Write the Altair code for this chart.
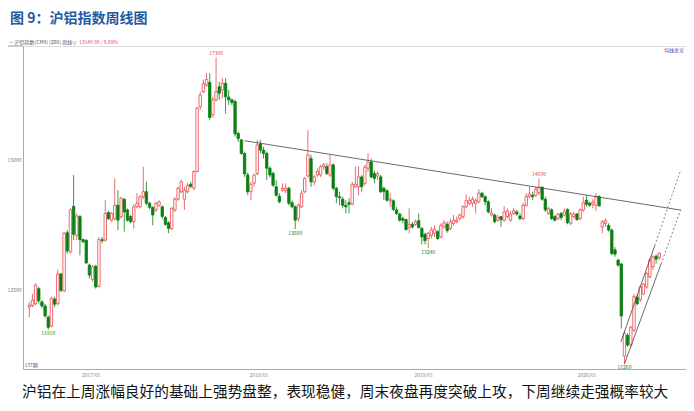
import altair as alt
import pandas as pd

# ---------------- data (weekly candles) ----------------
start_week = "2016-08-19"
opens = [12190,12220,12250,12510,12280,12210,12020,11870,12330,12250,
12770,12470,13530,13170,14040,13480,13840,13400,13390,12930,
12670,12910,12550,13400,13390,13920,13770,13800,14060,13840,
14180,13970,13840,13740,14030,14030,14230,14330,14100,14020,
13970,14060,14030,13820,13720,13610,13970,14180,14330,14180,
14330,14480,14400,14740,16140,16490,16640,16700,15960,16300,
16600,16530,16680,16360,16300,16260,15550,15410,15120,14670,
14330,14500,14700,15320,15190,15120,14810,14700,14430,14240,
14360,14350,14400,14110,14030,13800,14030,14330,14650,15010,
14530,14670,14670,14840,14840,14670,14880,14400,14230,14180,
14060,14110,14080,14430,14430,14630,14500,14810,14940,14700,
14650,14630,14400,14350,14150,14150,13970,13890,13800,13780,
13630,13690,13690,13760,13610,13500,13420,13480,13520,13550,
13450,13640,13690,13610,13710,13740,13800,13840,14030,14100,
14100,14100,14130,14300,14230,14130,13870,13870,13770,13840,
13770,13840,13770,13900,13930,13850,13800,14060,14230,14260,
14260,14310,14420,14180,13900,13970,13840,13800,13900,13870,
13980,13710,13840,13890,13800,13970,14160,14100,14080,14060,
14230,13640,13710,13670,13580,13210,13020,12950,11380,11720,
11560,11800,12360,12320,12420,12540,12720,12900,13090,13070]
highs = [12280,12420,12610,12540,12310,12250,12050,12370,12370,12850,
12790,13550,13580,14000,14670,13900,13870,13420,13400,12960,
12930,12930,13450,13450,14160,13950,13930,14600,14360,14230,
14200,14000,13870,14080,14300,14260,14840,14530,14130,14040,
14130,14160,14060,13850,13750,14030,14220,14430,14570,14430,
14510,14530,14770,16140,16490,16770,16920,16920,16370,17300,
16720,16800,16800,16530,16330,16300,15590,15420,15160,14720,
14530,14700,15410,15410,15260,15160,14850,14740,14570,14300,
14500,14500,14430,14160,14060,14100,14360,14630,15620,15090,
14670,14810,14880,14920,14910,15090,14910,14430,14330,14230,
14160,14200,14530,14840,14850,14670,14880,15120,15010,14760,
14740,14670,14430,14380,14300,14180,14030,13910,13840,13800,
14000,13740,13780,13900,13640,13530,13550,13640,13670,13580,
13710,13770,13740,13800,13870,13840,13900,14060,14280,14230,
14230,14200,14380,14330,14260,14160,14000,13900,13870,13850,
14040,14000,13950,14000,13970,13900,14100,14300,14430,14330,
14430,14600,14440,14230,14030,14000,13870,13910,13930,14000,
14000,13930,13930,13910,14000,14230,14260,14130,14180,14300,
14260,13770,13800,13710,13610,13260,13050,12970,11800,11750,
11880,12420,12400,12570,12610,12810,13050,13110,13130,13160]
lows = [12020,12190,12220,12250,12170,12010,11810,11850,12190,12220,
12450,12450,13140,13140,13390,13390,13110,13330,12950,12690,
12630,12510,12530,13330,13360,13770,13740,13770,13580,13800,
13550,13740,13710,13610,14000,14000,14180,14060,13980,13670,
13930,14030,13800,13660,13520,13580,13930,14150,14300,13970,
14300,14400,14360,14720,16070,16450,16600,15840,15900,16260,
16300,16330,15990,16180,16180,15480,15370,15090,14630,14260,
14160,14430,14670,15120,15010,14570,14620,14430,14230,14100,
14330,14300,14060,14000,13600,13740,14000,14300,14620,14430,
14460,14630,14630,14770,14670,14630,14360,14100,14060,14000,
13900,13900,14060,14400,14260,14330,14460,14740,14600,14500,
14570,14300,14160,14130,14030,13950,13870,13740,13710,13570,
13520,13610,13660,13610,13310,13310,13240,13420,13450,13390,
13420,13610,13530,13580,13660,13710,13770,13800,14000,14060,
14030,13900,14100,14200,14060,13900,13840,13710,13740,13640,
13740,13800,13740,13870,13850,13770,13770,14030,14200,14160,
14230,14260,14150,13930,13870,13770,13740,13770,13770,13840,
13690,13670,13800,13760,13770,13930,14030,14030,14000,13950,
14030,13520,13640,13550,13110,13080,12900,11830,11260,11530,
11530,11770,12220,12280,12400,12510,12690,12840,12960,13020]
closes = [12220,12310,12570,12300,12210,12040,11850,12340,12240,12770,
12480,13520,13190,13970,13500,13850,13400,13360,12970,12750,
12900,12540,13400,13380,13900,13800,13900,14060,13770,14200,
13930,13770,13740,14030,14100,14230,14330,14100,14020,13870,
14100,14130,13840,13690,13610,14000,14180,14400,14530,14360,
14460,14440,14740,16110,16410,16680,16770,15900,16300,16490,
16450,16680,16370,16300,16240,15540,15440,15120,14690,14330,
14480,14670,15300,15190,15120,14810,14670,14460,14260,14130,
14400,14400,14100,14030,13770,14060,14300,14600,15090,14530,
14630,14740,14840,14880,14700,14880,14400,14230,14210,14060,
14030,14080,14480,14480,14630,14430,14830,14940,14630,14600,
14700,14330,14330,14160,14180,13980,13900,13770,13770,13590,
13690,13640,13740,13630,13450,13380,13520,13580,13600,13420,
13670,13720,13570,13740,13770,13770,13870,14030,14150,14160,
14180,14150,14300,14230,14130,13930,13910,13740,13820,13780,
13930,13950,13890,13950,13890,13800,14060,14240,14280,14230,
14380,14420,14180,13970,14000,13800,13770,13890,13820,13930,
13720,13890,13890,13780,13970,14110,14080,14060,14120,14230,
14050,13740,13760,13580,13140,13130,12930,12040,11750,11560,
11850,12370,12250,12540,12590,12780,13020,13080,13040,13149]

# high / low annotations
ann_hi_idx = [59, 161]
ann_hi_txt = ["17300", "14600"]
ann_lo_idx = [6, 84, 126, 188]
ann_lo_txt = ["11810", "13600", "13240", "11260"]

# trend lines
trend_group = ["down", "down", "up1", "up1", "up1d", "up1d", "up2", "up2", "up2d", "up2d"]
trend_dates = ["2017-12-08", "2020-07-30", "2020-03-19", "2020-06-02", "2020-06-02", "2020-07-28",
               "2020-03-27", "2020-06-16", "2020-06-16", "2020-07-29"]
trend_prices = [15391, 13965, 11610, 13289, 13289, 14736, 11260, 12952, 12952, 13965]

axis_dates = [(2017, 1, 2), (2018, 1, 8), (2019, 1, 7), (2020, 1, 3)]
y_ticks = [12500, 15000]

title_text = "图 9：沪铝指数周线图"
header_left = "— 沪铝指数(CM9) (208)    周线∨"
header_right = "13149    90 / 0.69%"
corner_right = "均线金叉"
corner_left = "137期"
caption = "沪铝在上周涨幅良好的基础上强势盘整，表现稳健，周末夜盘再度突破上攻，下周继续走强概率较大"

# ---------------- build ----------------
RED = "#E8464A"
GREEN = "#0B7F12"
BLUE = "#3A3FA8"
FONT = "Noto Sans CJK SC"

dates = pd.date_range(start_week, periods=len(opens), freq="7D")
df = pd.DataFrame({"date": dates, "open": opens, "high": highs, "low": lows, "close": closes})
df["dir"] = ["up" if c >= o else "down" for o, c in zip(df["open"], df["close"])]

hi_df = pd.DataFrame({"date": dates[ann_hi_idx], "price": [highs[i] for i in ann_hi_idx], "label": ann_hi_txt})
lo_df = pd.DataFrame({"date": dates[ann_lo_idx], "price": [lows[i] for i in ann_lo_idx], "label": ann_lo_txt})
tr_df = pd.DataFrame({"date": pd.to_datetime(trend_dates), "price": trend_prices, "grp": trend_group})
tr_df["dashed"] = tr_df["grp"].str.endswith("d")

xscale = alt.Scale(domain=[alt.DateTime(year=2016, month=8, date=16, hours=4),
                           alt.DateTime(year=2020, month=7, date=30)], nice=False)
yscale = alt.Scale(type="log", domain=[11178, 17576], nice=False, zero=False)

xaxis = alt.Axis(values=[alt.DateTime(year=y, month=m, date=d) for y, m, d in axis_dates],
                 format="%Y/%m", labelFontSize=5, labelColor="#888888", domainColor="#aaaaaa",
                 ticks=False, grid=False, title=None, labelPadding=3, labelFont=FONT)
yaxis = alt.Axis(values=y_ticks, format="d", labelFontSize=5, labelColor="#777777",
                 domainColor="#aaaaaa", ticks=False, grid=False, title=None, labelPadding=2, labelFont=FONT)

dir_color = alt.Scale(domain=["up", "down"], range=[RED, GREEN])
dir_fill = alt.Scale(domain=["up", "down"], range=["#ffffff", GREEN])

base = alt.Chart(df).encode(x=alt.X("date:T", scale=xscale, axis=xaxis))

wick = base.mark_rule(strokeWidth=0.8).encode(
    y=alt.Y("low:Q", scale=yscale, axis=yaxis),
    y2="high:Q",
    color=alt.Color("dir:N", scale=dir_color, legend=None),
)
body = base.mark_bar(size=2.4, strokeWidth=0.8).encode(
    y="open:Q",
    y2="close:Q",
    fill=alt.Fill("dir:N", scale=dir_fill, legend=None),
    stroke=alt.Stroke("dir:N", scale=dir_color, legend=None),
)

trend_solid = alt.Chart(tr_df[~tr_df["dashed"]]).mark_line(color="#444444", strokeWidth=0.8, clip=True).encode(
    x=alt.X("date:T", scale=xscale), y=alt.Y("price:Q", scale=yscale), detail="grp:N")
trend_dash = alt.Chart(tr_df[tr_df["dashed"]]).mark_line(color="#666666", strokeWidth=0.8, strokeDash=[2, 2], clip=True).encode(
    x=alt.X("date:T", scale=xscale), y=alt.Y("price:Q", scale=yscale), detail="grp:N")

hi_txt = alt.Chart(hi_df).mark_text(fontSize=5, color=RED, baseline="bottom", dy=-1, font=FONT).encode(
    x="date:T", y=alt.Y("price:Q", scale=yscale), text="label:N")
lo_txt = alt.Chart(lo_df).mark_text(fontSize=5, color=GREEN, baseline="top", dy=1.5, font=FONT).encode(
    x="date:T", y=alt.Y("price:Q", scale=yscale), text="label:N")

one = pd.DataFrame({"t": [title_text], "h1": [header_left], "h2": [header_right], "c": [caption],
                    "cr": [corner_right], "cl": [corner_left]})
title = alt.Chart(one).mark_text(align="left", baseline="middle", fontSize=14, fontWeight="bold",
                                 color="#1F5A9E", font=FONT).encode(
    x=alt.value(-13), y=alt.value(-27), text="t:N")
head1 = alt.Chart(one).mark_text(align="left", baseline="middle", fontSize=5, color="#555555", font=FONT).encode(
    x=alt.value(-14), y=alt.value(-4), text="h1:N")
head2 = alt.Chart(one).mark_text(align="left", baseline="middle", fontSize=5, color=RED, font=FONT).encode(
    x=alt.value(56), y=alt.value(-4), text="h2:N")
cr = alt.Chart(one).mark_text(align="right", baseline="middle", fontSize=5, color=BLUE, font=FONT).encode(
    x=alt.value(661), y=alt.value(4), text="cr:N")
cl = alt.Chart(one).mark_text(align="left", baseline="middle", fontSize=5, color=BLUE, font=FONT).encode(
    x=alt.value(1.5), y=alt.value(319), text="cl:N")
cap = alt.Chart(one).mark_text(align="left", baseline="middle", fontSize=14.7, color="#111111", font=FONT).encode(
    x=alt.value(-1), y=alt.value(347), text="c:N")
topline = alt.Chart(one).mark_rule(color="#999999", strokeWidth=1).encode(
    x=alt.value(-15), x2=alt.value(0), y=alt.value(0))

chart = alt.layer(wick, body, trend_solid, trend_dash, hi_txt, lo_txt, title, head1, head2, cr, cl, cap, topline).properties(
    width=663, height=323,
    padding={"left": 15, "top": 38, "right": 0, "bottom": 35},
    autosize="none",
).configure_view(stroke="#999999", strokeWidth=1).configure(background="white")

chart.save("out.html", embed_options={"renderer": "svg", "actions": False})
